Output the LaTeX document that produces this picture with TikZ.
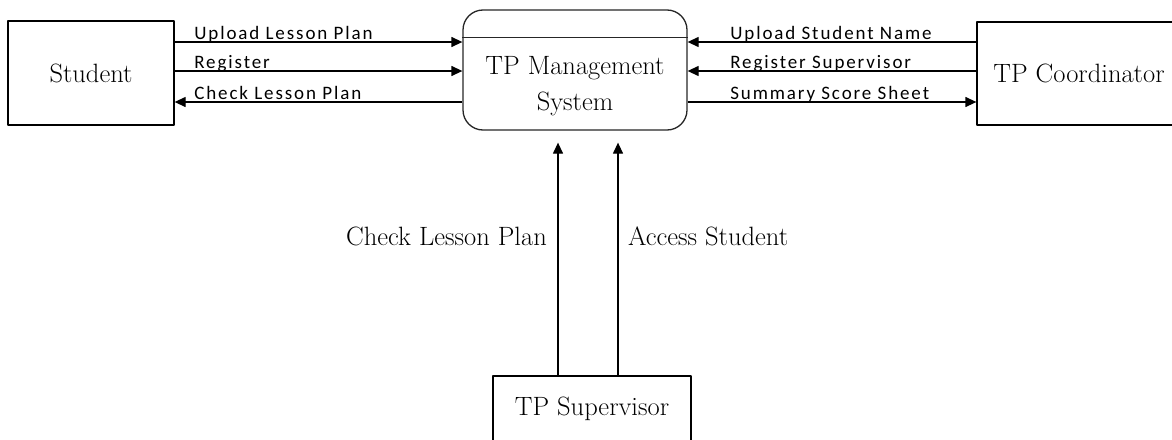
\documentclass[tikz,border=0pt]{standalone}
\usepackage{fontspec}
\newfontfamily\lblfont[LetterSpace=10]{Carlito}
\usetikzlibrary{arrows.meta,positioning}
\begin{document}
\begin{tikzpicture}[x=1pt,y=-1pt,>={Triangle[length=11pt,width=10pt]}, line join=round,
    ent/.style={draw, line width=1.3pt, inner sep=0pt, font=\fontsize{26.5}{32}\selectfont},
    flow/.style={line width=1.3pt},
    lbl/.style={font=\lblfont\fontsize{19}{22}\selectfont, inner sep=0pt, anchor=base west},
    big/.style={font=\fontsize{26.5}{36}\selectfont, inner sep=0pt}]
    \useasboundingbox (0,0) rectangle (1172,439);
    % entities and process
    \node[ent, minimum width=166pt, minimum height=104pt] (st) at (91,73) {Student};
    \node[ent, draw=black!85, rounded corners=20pt, minimum width=224pt, minimum height=120pt] (proc) at (575,70) {};
    \node[big, align=center] (proctxt) at (575,86) {TP Management\\System};
    \draw[flow, black!85] ([yshift=-28pt]proc.north west) -- ([yshift=-28pt]proc.north east);
    \node[ent, minimum width=204pt, minimum height=103pt] (co) at (1079,73.5) {TP Coordinator};
    \node[ent, minimum width=198pt, minimum height=66pt] (sup) at (592,409) {TP Supervisor};
    % student flows
    \draw[flow,->] ([yshift=31pt]st.east) -- ([yshift=31pt]st.east -| proc.west)
        node[lbl, pos=0, xshift=19pt, yshift=3pt] {Upload Lesson Plan};
    \draw[flow,->] ([yshift=2pt]st.east) -- ([yshift=2pt]st.east -| proc.west)
        node[lbl, pos=0, xshift=19pt, yshift=3pt] {Register};
    \draw[flow,<-] ([yshift=-29pt]st.east) -- ([yshift=-29pt]st.east -| proc.west)
        node[lbl, pos=0, xshift=19pt, yshift=3pt] {Check Lesson Plan};
    % coordinator flows
    \draw[flow,<-] ([yshift=31.5pt]co.west -| proc.east) -- ([yshift=31.5pt]co.west)
        node[lbl, pos=0, xshift=42pt, yshift=3pt] {Upload Student Name};
    \draw[flow,<-] ([yshift=2.5pt]co.west -| proc.east) -- ([yshift=2.5pt]co.west)
        node[lbl, pos=0, xshift=42pt, yshift=3pt] {Register Supervisor};
    \draw[flow,->] ([yshift=-28.5pt]co.west -| proc.east) -- ([yshift=-28.5pt]co.west)
        node[lbl, pos=0, xshift=42pt, yshift=3pt] {Summary Score Sheet};
    % supervisor flows
    \draw[flow,->,shorten >=12pt] ([xshift=-34pt]sup.north) -- ([xshift=-34pt]sup.north |- proc.south);
    \draw[flow,->,shorten >=12pt] ([xshift=26pt]sup.north) -- ([xshift=26pt]sup.north |- proc.south);
    \node[big, anchor=base east] (chk) at (547,245) {Check Lesson Plan};
    \node[big, anchor=base west] (acc) at (628,245) {Access Student};
\end{tikzpicture}
\end{document}
